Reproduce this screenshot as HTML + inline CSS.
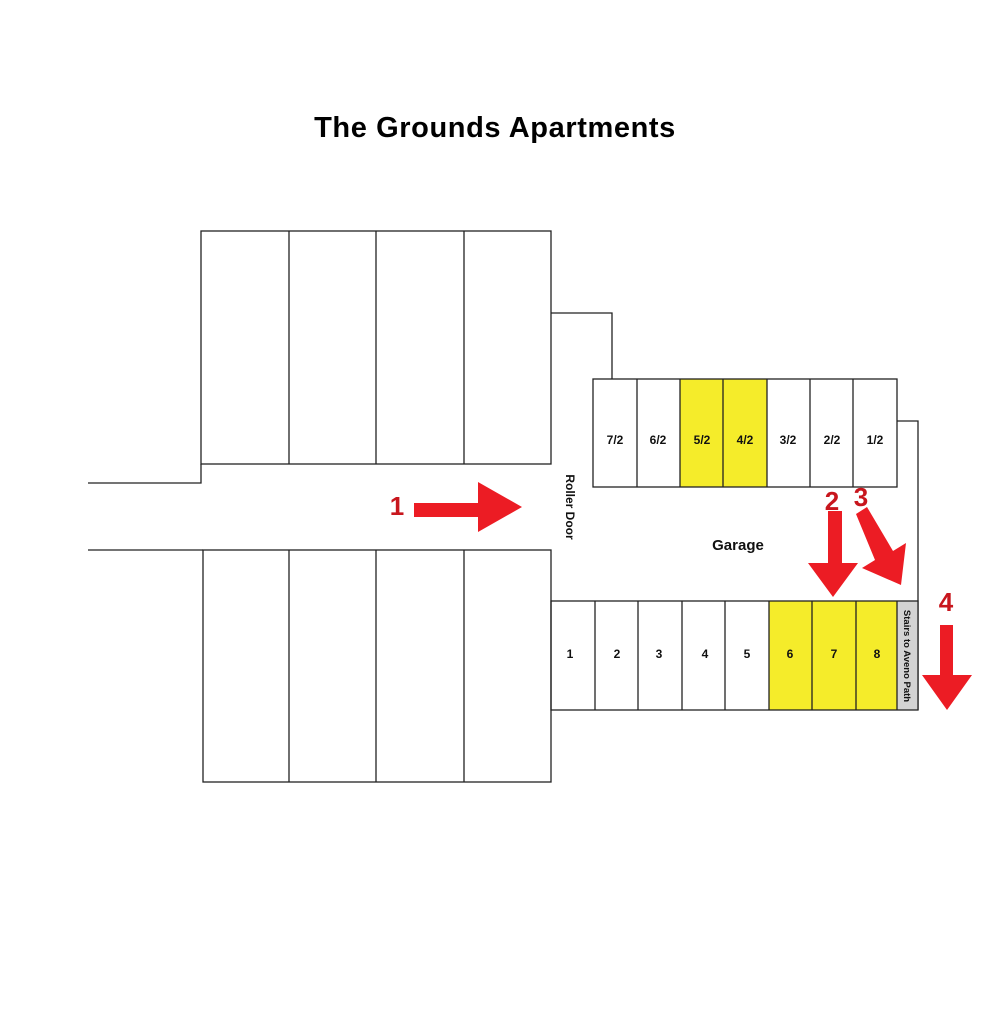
<!DOCTYPE html>
<html><head><style>
body{margin:0;background:#fff;width:991px;height:1024px;overflow:hidden}
svg text{font-family:"Liberation Sans",sans-serif}
</style></head><body>
<svg width="991" height="1024" viewBox="0 0 991 1024" xmlns="http://www.w3.org/2000/svg">
<text x="495" y="137" text-anchor="middle" font-size="29" font-weight="bold" fill="#000" letter-spacing="0.6">The Grounds Apartments</text>
<g fill="none" stroke="#222" stroke-width="1.3">
<rect x="201" y="231" width="350" height="233"/>
<line x1="289" y1="231" x2="289" y2="464"/><line x1="376" y1="231" x2="376" y2="464"/><line x1="464" y1="231" x2="464" y2="464"/>
<rect x="203" y="550" width="348" height="232"/>
<line x1="289" y1="550" x2="289" y2="782"/><line x1="376" y1="550" x2="376" y2="782"/><line x1="464" y1="550" x2="464" y2="782"/>
<polyline points="88,483 201,483 201,464"/>
<line x1="88" y1="550" x2="203" y2="550"/>
<polyline points="551,313 612,313 612,379"/>
<polyline points="897,421 918,421 918,710"/>
</g>
<rect x="680" y="379" width="87" height="108" fill="#f5ec2a"/>
<rect x="769" y="601" width="128" height="109" fill="#f5ec2a"/>
<rect x="897" y="601" width="21" height="109" fill="#d3d3d3"/>
<g fill="none" stroke="#222" stroke-width="1.3">
<rect x="593" y="379" width="304" height="108"/>
<line x1="637" y1="379" x2="637" y2="487"/><line x1="680" y1="379" x2="680" y2="487"/><line x1="723" y1="379" x2="723" y2="487"/><line x1="767" y1="379" x2="767" y2="487"/><line x1="810" y1="379" x2="810" y2="487"/><line x1="853" y1="379" x2="853" y2="487"/>
<rect x="551" y="601" width="367" height="109"/>
<line x1="595" y1="601" x2="595" y2="710"/><line x1="638" y1="601" x2="638" y2="710"/><line x1="682" y1="601" x2="682" y2="710"/><line x1="725" y1="601" x2="725" y2="710"/><line x1="769" y1="601" x2="769" y2="710"/><line x1="812" y1="601" x2="812" y2="710"/><line x1="856" y1="601" x2="856" y2="710"/><line x1="897" y1="601" x2="897" y2="710"/>
</g>
<g font-size="12" font-weight="bold" fill="#111" text-anchor="middle">
<text x="615" y="444">7/2</text><text x="658" y="444">6/2</text><text x="702" y="444">5/2</text><text x="745" y="444">4/2</text><text x="788" y="444">3/2</text><text x="832" y="444">2/2</text><text x="875" y="444">1/2</text>
<text x="570" y="658">1</text><text x="617" y="658">2</text><text x="659" y="658">3</text><text x="705" y="658">4</text><text x="747" y="658">5</text><text x="790" y="658">6</text><text x="834" y="658">7</text><text x="877" y="658">8</text>
<text x="738" y="550" font-size="15">Garage</text>
<text transform="translate(566,507) rotate(90)" font-size="12">Roller Door</text>
<text transform="translate(904,656) rotate(90)" font-size="9.5">Stairs to Aveno Path</text>
</g>
<g fill="#ec1c24">
<polygon points="414,503 478,503 478,482 522,507 478,532 478,517 414,517"/>
<polygon points="828,511 842,511 842,563 858,563 833,597 808,563 828,563"/>
<polygon points="940,625 953,625 953,675 972,675 947,710 922,675 940,675"/>
<polygon points="856,514 867,507 893,551 906,543 901,585 862,568 875,560"/>
</g>
<g fill="#c8161d" font-weight="bold" font-size="26" text-anchor="middle">
<text x="397" y="515">1</text><text x="832" y="510">2</text><text x="861" y="506">3</text><text x="946" y="611">4</text>
</g>
</svg>
</body></html>
